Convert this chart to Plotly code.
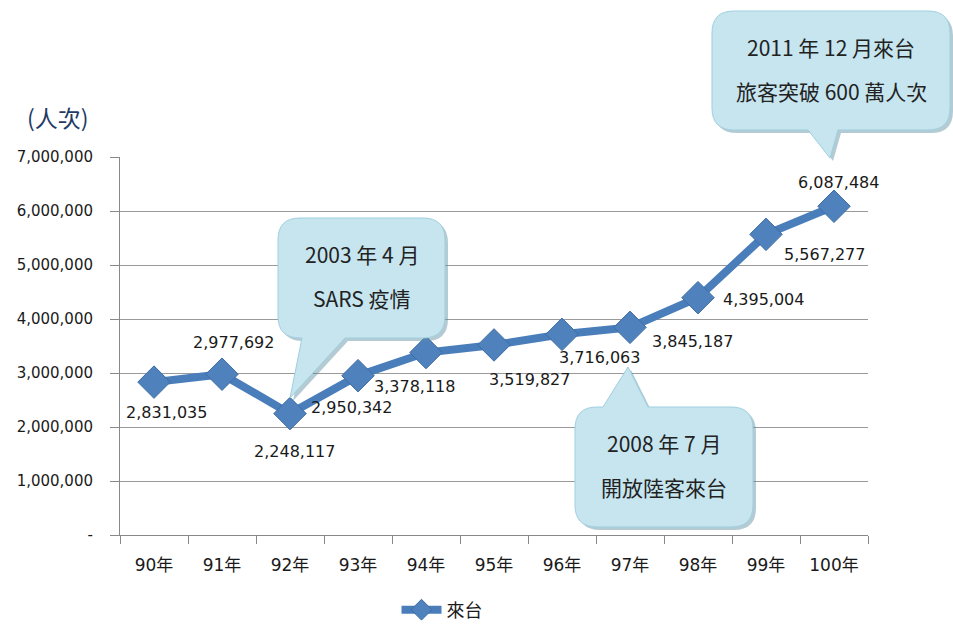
import plotly.graph_objects as go

categories = ["90年", "91年", "92年", "93年", "94年", "95年", "96年", "97年", "98年", "99年", "100年"]
visitors = [2831035, 2977692, 2248117, 2950342, 3378118, 3519827, 3716063, 3845187, 4395004, 5567277, 6087484]
series_name = "來台"
y_tickvals = [0, 1000000, 2000000, 3000000, 4000000, 5000000, 6000000, 7000000]
y_ticktext = ["-", "1,000,000", "2,000,000", "3,000,000", "4,000,000", "5,000,000", "6,000,000", "7,000,000"]
callouts = [
    ("2011 年 12 月來台", "旅客突破 600 萬人次"),
    ("2003 年 4 月", "SARS 疫情"),
    ("2008 年 7 月", "開放陸客來台"),
]

# label offsets (pixels) per point
label_dx = [12, 11, 4, -7, -12, 35, 37, 62, 65, 58, 4]
label_dy = [30, -32, 38, 32, 34, 35, 23, 14, 2, 20, -24]

W, H = 953, 626
L, R, T, B = 120, 868, 157, 535
FONT = "DejaVu Sans, Noto Sans CJK TC"
CJK = "Noto Sans CJK TC"

def px(x):
    return (x - L) / (R - L)

def py(y):
    return (B - y) / (B - T)

fig = go.Figure()
fig.add_trace(go.Scatter(
    x=categories, y=visitors, name=series_name, mode="lines+markers",
    line=dict(color="#4a7ebb", width=8),
    marker=dict(symbol="diamond", size=25, color="#4f81bd", line=dict(color="#3d6ca3", width=1)),
))

annotations = []
for i, (c, v) in enumerate(zip(categories, visitors)):
    annotations.append(dict(
        x=c, y=v, xref="x", yref="y", text=f"{v:,}", showarrow=False,
        xshift=label_dx[i], yshift=-label_dy[i],
        font=dict(family=FONT, size=16, color="#1a1a1a"),
    ))

def bubble_path(x0, y0, x1, y1, r, ptr):
    side, a, b, tx, ty = ptr
    def P(x, y):
        return f"{px(x):.5f},{py(y):.5f}"
    d = f"M {P(x0 + r, y0)}"
    if side == "top":
        d += f" L {P(a, y0)} L {P(tx, ty)} L {P(b, y0)}"
    d += f" L {P(x1 - r, y0)} Q {P(x1, y0)} {P(x1, y0 + r)}"
    d += f" L {P(x1, y1 - r)} Q {P(x1, y1)} {P(x1 - r, y1)}"
    if side == "bottom":
        d += f" L {P(b, y1)} L {P(tx, ty)} L {P(a, y1)}"
    d += f" L {P(x0 + r, y1)} Q {P(x0, y1)} {P(x0, y1 - r)}"
    d += f" L {P(x0, y0 + r)} Q {P(x0, y0)} {P(x0 + r, y0)} Z"
    return d

bubbles = [
    (712, 11, 950, 130, 22, ("bottom", 808, 838, 830, 158), 0),
    (278, 218, 445, 338, 22, ("bottom", 302, 345, 290, 398), 1),
    (575, 407, 753, 527, 22, ("top", 603, 648, 628, 367), 2),
]
shapes = []
for (x0, y0, x1, y1, r, ptr, k) in bubbles:
    side, a, b, tx, ty = ptr
    sp = (side, a + 3, b + 3, tx + 3, ty + 3)
    shapes.append(dict(type="path", xref="paper", yref="paper",
                       path=bubble_path(x0 + 3, y0 + 3, x1 + 3, y1 + 3, r, sp),
                       fillcolor="rgba(90,140,160,0.45)", line=dict(width=0), layer="above"))
    shapes.append(dict(type="path", xref="paper", yref="paper",
                       path=bubble_path(x0, y0, x1, y1, r, ptr),
                       fillcolor="#c6e5ef", line=dict(color="#9fcfdf", width=1), layer="above"))
    cx = (x0 + x1) / 2
    l1, l2 = callouts[k]
    h = y1 - y0
    for txt, frac in ((l1, 0.30), (l2, 0.67)):
        annotations.append(dict(x=px(cx), y=py(y0 + h * frac), xref="paper", yref="paper",
                                xanchor="center", yanchor="middle",
                                text=txt, showarrow=False,
                                font=dict(family=CJK, size=21, color="#222222")))

annotations.append(dict(x=px(58), y=py(117), xref="paper", yref="paper", text="(人次)",
                        xanchor="center", yanchor="middle",
                        showarrow=False, font=dict(family=CJK, size=23, color="#1f3b66")))

fig.update_layout(
    width=W, height=H,
    margin=dict(l=L, r=W - R, t=T, b=H - B, autoexpand=False),
    paper_bgcolor="white", plot_bgcolor="white",
    font=dict(family=FONT, size=15, color="#1a1a1a"),
    showlegend=True,
    legend=dict(orientation="h", x=px(442), y=py(610), xanchor="center", yanchor="middle",
                font=dict(family=CJK, size=18), itemwidth=40, tracegroupgap=0),
    annotations=annotations,
    shapes=shapes,
)
fig.update_xaxes(
    type="category", range=[-0.5, 10.5], tickson="boundaries",
    ticks="outside", ticklen=8, tickcolor="#888888",
    showline=True, linecolor="#888888", linewidth=1, showgrid=False,
    tickfont=dict(family=FONT, size=17, color="#1a1a1a"), ticklabelstandoff=15,
)
fig.update_yaxes(
    range=[0, 7000000], tickvals=y_tickvals, ticktext=y_ticktext,
    ticks="outside", ticklen=9, tickcolor="#888888",
    showline=True, linecolor="#888888", linewidth=1,
    showgrid=True, gridcolor="#9a9a9a", gridwidth=1, zeroline=False,
    tickfont=dict(family=FONT, size=15, color="#1a1a1a"), ticklabelstandoff=14,
)

fig.write_html("out.html")
